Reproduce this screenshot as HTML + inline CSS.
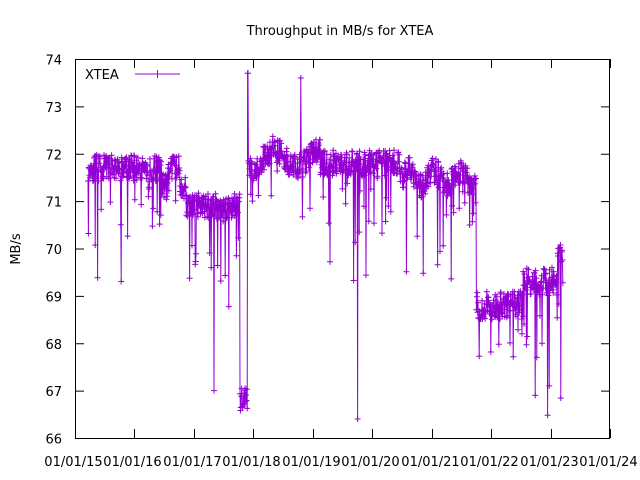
<!DOCTYPE html>
<html><head><meta charset="utf-8"><style>
body{margin:0;background:#fff;}
svg{display:block;font-family:"DejaVu Sans","Liberation Sans",sans-serif;}
</style></head><body>
<svg id="s" width="640" height="480" viewBox="0 0 640 480">
<rect x="0" y="0" width="640" height="480" fill="#fff"/>
<text x="340" y="35" font-size="13" text-anchor="middle">Throughput in MB/s for XTEA</text>
<text x="20" y="249" font-size="13" text-anchor="middle" transform="rotate(-90 20 249)">MB/s</text>
<g id="grid" stroke="#000" stroke-width="1" fill="none"></g>
<g id="lbl" font-size="13" fill="#000"></g>
<path id="ln" fill="none" stroke="#9400d3" stroke-width="1"/>
<path id="mk" fill="none" stroke="#9400d3" stroke-width="1"/>
<rect x="75.5" y="59.5" width="534" height="379" fill="none" stroke="#000"/>
<text x="85" y="79" font-size="13">XTEA</text>
<line x1="135" y1="74" x2="180" y2="74" stroke="#9400d3"/>
<line x1="157.5" y1="70" x2="157.5" y2="78" stroke="#9400d3"/>
</svg>
<script>
var L=75,R=610,T=59,B=438;
function Y(v){return B-(v-66)*(B-T)/8;}
var g=document.getElementById('grid'),lb=document.getElementById('lbl'),h='',t='';
for(var v=66;v<=74;v++){var y=Y(v)+0.5;h+='<line x1="'+L+'" y1="'+y+'" x2="'+(L+9)+'" y2="'+y+'"/><line x1="'+(R-9)+'" y1="'+y+'" x2="'+R+'" y2="'+y+'"/>';t+='<text x="62" y="'+(y+5)+'" text-anchor="end">'+v+'</text>';}
for(var i=0;i<=9;i++){var x=Math.round(L+i*(R-L)/9)+0.5;h+='<line x1="'+x+'" y1="'+B+'" x2="'+x+'" y2="'+(B-9)+'"/><line x1="'+x+'" y1="'+T+'" x2="'+x+'" y2="'+(T+9)+'"/>';t+='<text x="'+(x-2)+'" y="466" text-anchor="middle">01/01/'+(15+i)+'</text>';}
g.innerHTML=h;lb.innerHTML=t;
var seed=11;function rnd(){seed=(seed*16807)%2147483647;return seed/2147483647;}
function base(x){
 if(x<148)return 71.7;
 if(x<186)return (Math.floor(x/6)%3==0?71.3:71.7);
 if(x<240)return 70.9;
 if(x<248)return 66.8;
 if(x<320)return 71.9+0.2*Math.sin(x/7);
 if(x<400)return 71.8;
 if(x<476)return 71.5+0.15*Math.sin(x/4);
 if(x<523)return 68.8;
 if(x<557)return 69.3;
 return 69.85;}
function noise(x){if(x>240&&x<248)return 0.5; if(x>475&&x<557)return 0.6; return 0.55;}
var d='',m='';
for(var x=88;x<=563;x+=0.4){
 var v=base(x)+(rnd()-0.5)*noise(x);
 var r=rnd();
 var dip=(x>185&&x<240)?0.12:0.07;
 if(r<dip && !(x>240&&x<248))v-=0.4+rnd()*rnd()*2.5;
 if(x>247.6&&x<248.1)v=73.7;
 if(x>300.5&&x<300.9)v=73.6;
 if(x>357.5&&x<357.9)v=66.4;
 if(x>535&&x<535.4)v=66.9;
 if(x>549&&x<549.4)v=67.1;
 if(x>214&&x<214.4)v=67.0;
 var y=Y(v);
 d+=(d?'L':'M')+x.toFixed(1)+' '+y.toFixed(1);
 m+='M'+(x-3).toFixed(1)+' '+y.toFixed(1)+'h6M'+x.toFixed(1)+' '+(y-3).toFixed(1)+'v6';
}
document.getElementById('ln').setAttribute('d',d);
document.getElementById('mk').setAttribute('d',m);
</script>
</body></html>
